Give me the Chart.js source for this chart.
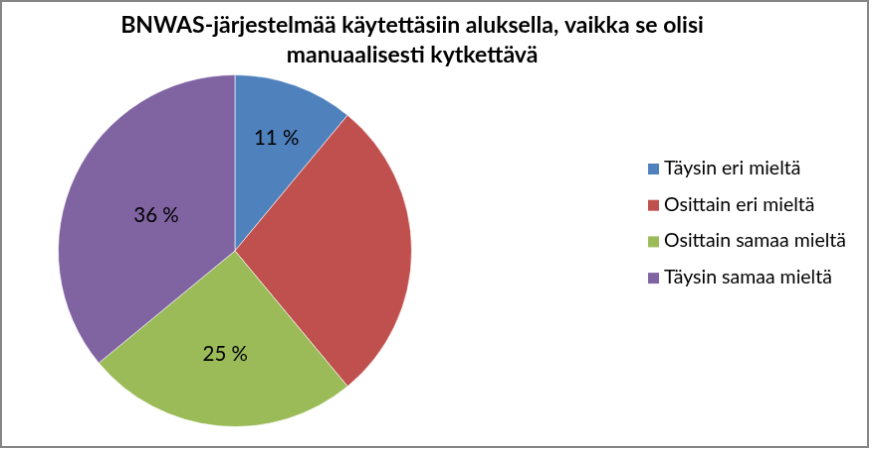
<!DOCTYPE html>
<html>
<head>
<meta charset="utf-8">
<script src="https://cdn.jsdelivr.net/npm/chart.js@4/dist/chart.umd.min.js"></script>
<style>
body { margin: 0; background: #fff; }
#myChart { display: block; border: 2px solid #868686; }
</style>
</head>
<body>
<canvas id="myChart" width="869" height="448"></canvas>
<script>
let titleLines = ["BNWAS-järjestelmää käytettäsiin aluksella, vaikka se olisi", "manuaalisesti kytkettävä"];
let labelsC = ["Täysin eri mieltä", "Osittain eri mieltä", "Osittain samaa mieltä", "Täysin samaa mieltä"];
let value = [11, 28, 25, 36];
// the red slice carries no percentage label in the original
let showValue = [true, false, true, true];
let colors = ['#4F81BD', '#C0504D', '#9BBB59', '#8064A2'];

// title, legend and slice labels drawn on top of the pie
let textPlugin = {
    id: 'textPlugin',
    afterDatasetsDraw(chart) {
        let c = chart.ctx;
        let meta = chart.getDatasetMeta(0);
        let total = value.reduce((a, b) => a + b, 0);
        c.save();
        c.fillStyle = '#000';
        c.textAlign = 'center';
        c.textBaseline = 'middle';
        c.font = '20.5px Lato';
        meta.data.forEach((arc, i) => {
            if (!showValue[i]) return;
            let p = arc.getProps(['x', 'y', 'startAngle', 'endAngle', 'outerRadius'], true);
            let mid = (p.startAngle + p.endAngle) / 2;
            // smaller slices get their label further out, like Excel's best fit
            let d = p.outerRadius * (0.78 - 0.8 * value[i] / total);
            c.fillText(value[i] + ' %', p.x + Math.cos(mid) * d, p.y + Math.sin(mid) * d + 2);
        });
        c.restore();
    },
    afterDraw(chart) {
        let c = chart.ctx;
        c.save();
        c.fillStyle = '#000';
        c.textAlign = 'center';
        c.textBaseline = 'alphabetic';
        c.font = 'bold 23px Lato';
        titleLines.forEach((t, i) => c.fillText(t, 412, 31 + i * 30));

        c.textAlign = 'left';
        c.font = '19.5px Lato';
        labelsC.forEach((t, i) => {
            let y = 163 + i * 36.7;
            c.fillStyle = colors[i];
            c.fillRect(649, y, 11, 11);
            c.fillStyle = '#000';
            c.fillText(t, 665, y + 11);
        });
        c.restore();
    }
};

let ctx = document.getElementById("myChart").getContext('2d');
let myChart = new Chart(ctx, {
    type: 'pie',
    data: {
        labels: labelsC,
        datasets: [{
            data: value,
            backgroundColor: colors,
            borderColor: 'rgba(255,255,255,0.6)',
            borderWidth: 1
        }]
    },
    options: {
        responsive: false,
        animation: false,
        layout: { padding: { left: 56, right: 457, top: 73, bottom: 19 } },
        plugins: {
            legend: { display: false },
            title: { display: false },
            tooltip: { enabled: false }
        }
    },
    plugins: [textPlugin]
});
</script>
</body>
</html>
